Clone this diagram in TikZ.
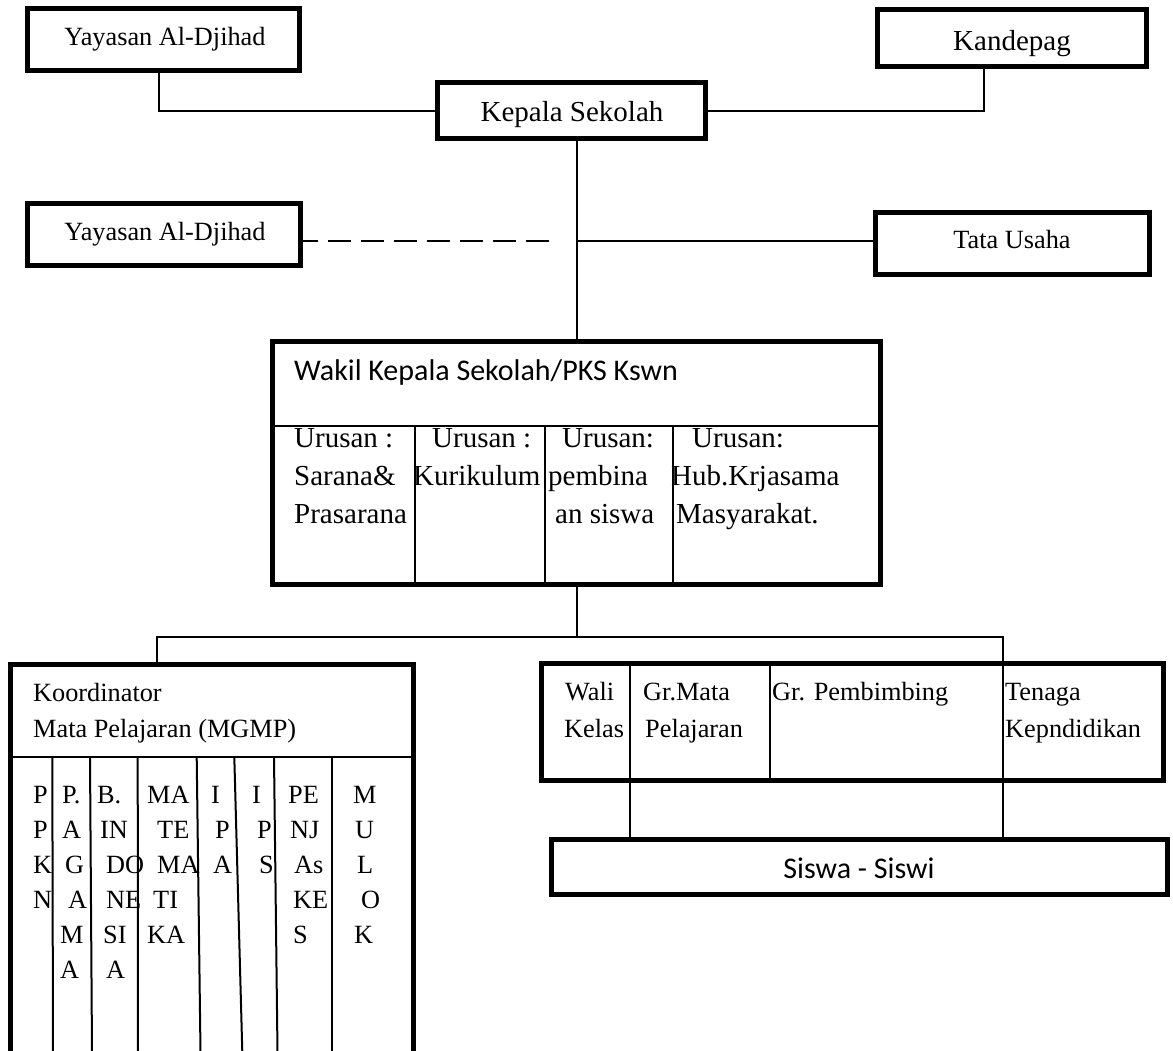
\documentclass[tikz,border=0pt]{standalone}
\usepackage{fontspec}
\setmainfont{Liberation Serif}
\newfontfamily\calib{Carlito}
\begin{document}
\begin{tikzpicture}[x=1pt,y=-1pt,
  box/.style={draw, line width=5pt, rectangle, inner sep=0pt},
  conn/.style={line width=2pt},
  sep/.style={line width=2pt},
  tc/.style={inner sep=0pt, anchor=base, font=\fontsize{26.3}{30}\selectfont},
  tcb/.style={inner sep=0pt, anchor=base, font=\fontsize{29}{33}\selectfont},
  tl/.style={inner sep=0pt, anchor=base west, font=\fontsize{26.3}{30}\selectfont},
  tu/.style={inner sep=0pt, anchor=base west, font=\fontsize{29}{33}\selectfont},
  ts/.style={inner sep=0pt, font=\calib\fontsize{30}{34}\selectfont}
]
\useasboundingbox (0,0) rectangle (1173,1050);
\clip (0,0) rectangle (1173,1050);

% boxes
\node[box, minimum width=272pt, minimum height=62pt] (yay1) at (163.5,39.5) {};
\node[box, minimum width=268pt, minimum height=56pt] (kep) at (571.5,110.5) {};
\node[box, minimum width=269pt, minimum height=57pt] (kand) at (1012,38) {};
\node[box, minimum width=273pt, minimum height=62pt] (yay2) at (164,234.5) {};
\node[box, minimum width=274pt, minimum height=62pt] (tata) at (1012.5,243.5) {};
\node[box, minimum width=608pt, minimum height=243pt] (wakil) at (576.5,463) {};
\node[box, minimum width=403pt, minimum height=393pt] (koor) at (212,861) {};
\node[box, minimum width=622pt, minimum height=117pt] (guru) at (852.5,722) {};
\node[box, minimum width=616pt, minimum height=55pt] (siswa) at (859,867) {};

% box texts
\node[tc] (tyay1) at (165,45) {Yayasan Al-Djihad};
\node[tcb] (tkep) at (572,121) {Kepala Sekolah};
\node[tcb] (tkand) at (1012,50) {Kandepag};
\node[tc] (tyay2) at (165,240) {Yayasan Al-Djihad};
\node[tc] (ttata) at (1012,248) {Tata Usaha};

% top connectors
\draw[conn] ([xshift=-4.5pt]yay1.south) |- (kep.west);
\draw[conn] ([xshift=-28pt]kand.south) |- (kep.east);
\coordinate (j1) at (577,241);
\draw[conn] (kep.south -| wakil.north) -- (wakil.north);
\draw[conn] (j1) -- (j1 -| tata.west);
\draw[conn, dash pattern=on 23pt off 10pt, dash phase=8pt] (yay2.east |- j1) -- ([xshift=-18pt]j1);

% Wakil box internals
\coordinate (hd) at (0,426);
\draw[sep] (wakil.west |- hd) -- (wakil.east |- hd);
\foreach \x in {415,545,672.5} \draw[sep] (\x,426) -- (\x,587);
\node[ts, anchor=base west] (twk) at (294,380) {Wakil Kepala Sekolah/PKS Kswn};
\node[tu] (u11) at (294,447) {Urusan :};
\node[tu] (u12) at (294,485) {Sarana\&};
\node[tu] (u13) at (294,523) {Prasarana};
\node[tu] (u21) at (432,447) {Urusan :};
\node[tu] (u22) at (413,485) {Kurikulum};
\node[tu] (u31) at (562,447) {Urusan:};
\node[tu] (u32) at (548,485) {pembina};
\node[tu] (u33) at (555,523) {an siswa};
\node[tu] (u41) at (692,447) {Urusan:};
\node[tu] (u42) at (671,485) {Hub.Krjasama};
\node[tu] (u43) at (676,523) {Masyarakat.};

% bus
\coordinate (busL) at (157,637);
\coordinate (busR) at (1003,637);
\draw[conn] (wakil.south) -- (wakil.south |- busL);
\draw[conn] (busL |- koor.north) -- (busL) -- (busR) -- (busR |- guru.north);

% Koordinator internals
\coordinate (hk) at (0,757);
\draw[sep] (koor.west |- hk) -- (koor.east |- hk);
\foreach \a/\b in {52.3/53, 90/92, 137.7/138, 196.7/200.5, 234.3/242.3, 274/277.5, 332.3/332.3}
  \draw[sep] (\a,757) -- (\b,1052);
\node[tl] (tk1) at (33,701) {Koordinator};
\node[tl] (tk2) at (33,737) {Mata Pelajaran (MGMP)};
\foreach \x/\y/\t [count=\n] in {
  33/803/P, 33/838/P, 33/873/K, 33/908/N,
  62/803/P., 62/838/A, 65/873/G, 68/908/A, 60/943/M, 60/978/A,
  97/803/B., 100/838/IN, 106/873/DO, 106/908/NE, 103/943/SI, 106/978/A,
  147/803/MA, 157/838/TE, 157/873/MA, 153/908/TI, 147/943/KA,
  211/803/I, 215/838/P, 213/873/A,
  252/803/I, 257/838/P, 259/873/S,
  288/803/PE, 290/838/NJ, 294/873/As, 293/908/KE, 293/943/S,
  353/803/M, 355/838/U, 357/873/L, 361/908/O, 354/943/K}
  \node[tl] (m\n) at (\x,\y) {\t};

% Guru box internals and links to Siswa
\coordinate (dv1) at (630,0);
\coordinate (dv2) at (770,0);
\draw[sep] (guru.north -| dv1) -- (siswa.north -| dv1);
\draw[sep] (guru.north -| dv2) -- (guru.south -| dv2);
\draw[sep] (guru.north -| busR) -- (siswa.north -| busR);
\node[tl] (g1) at (565,700) {Wali};
\node[tl] (g2) at (564,737) {Kelas};
\node[tl] (g3) at (643,700) {Gr.Mata};
\node[tl] (g4) at (645,737) {Pelajaran};
\node[tl] (g5) at (772,700) {Gr. Pembimbing};
\node[tl] (g6) at (1005,700) {Tenaga};
\node[tl] (g7) at (1005,737) {Kepndidikan};
\node[ts, anchor=base] (tsis) at (859,878) {Siswa - Siswi};
\end{tikzpicture}
\end{document}
